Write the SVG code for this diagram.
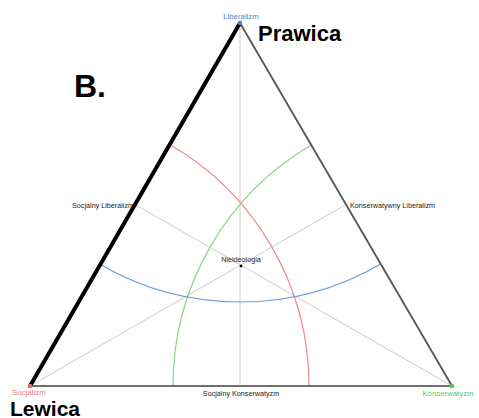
<svg xmlns="http://www.w3.org/2000/svg" width="479" height="418" viewBox="0 0 479 418">
  <style>
    .edge { fill: none; stroke-linecap: round; }
    .median { stroke: #cccccc; stroke-width: 1; fill: none; }
    .arc { fill: none; stroke-width: 1.2; }
    .small { font-family: "Liberation Sans", Arial, sans-serif; font-size: 7.2px; fill: #222; }
    .pole { font-family: "Liberation Sans", Arial, sans-serif; font-size: 7.8px; }
    .big { font-family: "Liberation Sans", Arial, sans-serif; font-weight: bold; fill: #000; }
  </style>
  <rect width="479" height="418" fill="#ffffff"/>

  <g id="connectors">
    <!-- medians through the centre -->
    <line class="median" x1="240" y1="23" x2="240" y2="386"/>
    <line class="median" x1="30" y1="386" x2="346" y2="204.5"/>
    <line class="median" x1="452" y1="386" x2="135" y2="204.5"/>
    <!-- equal-distance arcs around each pole -->
    <path class="arc" stroke="#ee8a8a" d="M169.7,144.5 A279,279 0 0,1 309,386"/>
    <path class="arc" stroke="#8fd08f" d="M173,386 A279,279 0 0,1 311.3,145.1"/>
    <path class="arc" stroke="#6a9fd8" d="M100.3,264.5 A279,279 0 0,0 380.7,263.9"/>
    <!-- triangle edges -->
    <line class="edge" x1="452" y1="386" x2="240" y2="23" stroke="#555555" stroke-width="1.8"/>
    <line class="edge" x1="30" y1="386" x2="452" y2="386" stroke="#707070" stroke-width="1.8"/>
    <line class="edge" x1="30" y1="386" x2="240" y2="23" stroke="#000000" stroke-width="4"/>
  </g>

  <g id="liberalizm">
    <circle cx="240" cy="23" r="2.3" fill="#4a86c8"/>
    <text class="pole" x="241" y="18.5" text-anchor="middle" fill="#4a86c8">Liberalizm</text>
  </g>
  <g id="socjalizm">
    <circle cx="30" cy="386" r="2.3" fill="#e86a6a"/>
    <text class="pole" x="29" y="394.5" text-anchor="middle" fill="#ee7b7b">Socjalizm</text>
  </g>
  <g id="konserwatyzm">
    <circle cx="452" cy="386" r="2.3" fill="#5cc05c"/>
    <text class="pole" x="448" y="396" text-anchor="middle" fill="#66c266">Konserwatyzm</text>
  </g>
  <g id="nieideologia">
    <rect x="239.8" y="264.8" width="2.4" height="2.4" fill="#000"/>
    <text class="small" x="241" y="262" text-anchor="middle">Nieideologia</text>
  </g>
  <g id="socjalny-liberalizm">
    <text class="small" x="134" y="207.5" text-anchor="end">Socjalny Liberalizm</text>
  </g>
  <g id="konserwatywny-liberalizm">
    <text class="small" x="350" y="207.5">Konserwatywny Liberalizm</text>
  </g>
  <g id="socjalny-konserwatyzm">
    <text class="small" x="241" y="396" text-anchor="middle">Socjalny Konserwatyzm</text>
  </g>

  <g id="labels">
    <text class="big" x="258" y="41" font-size="22">Prawica</text>
    <text class="big" x="10" y="415.5" font-size="21">Lewica</text>
    <text class="big" x="74" y="97" font-size="32">B.</text>
  </g>
</svg>
